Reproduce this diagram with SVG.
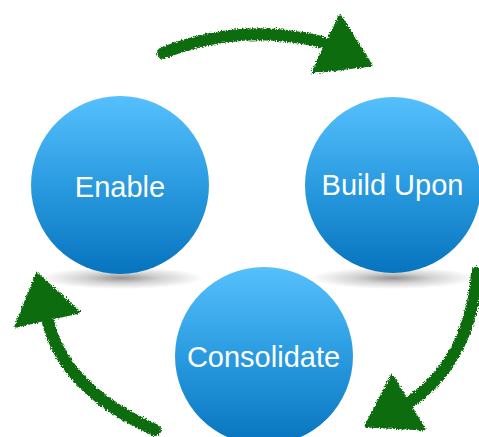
<svg xmlns="http://www.w3.org/2000/svg" width="479" height="437" viewBox="0 0 479 437">
  <defs>
    <linearGradient id="ball" x1="0" y1="0" x2="0" y2="1">
      <stop offset="0" stop-color="#56c0fd"/>
      <stop offset="0.5" stop-color="#2a9be0"/>
      <stop offset="1" stop-color="#0674be"/>
    </linearGradient>
    <radialGradient id="shadow" cx="0.5" cy="0.5" r="0.5">
      <stop offset="0" stop-color="#000" stop-opacity="0.42"/>
      <stop offset="0.45" stop-color="#000" stop-opacity="0.18"/>
      <stop offset="1" stop-color="#000" stop-opacity="0"/>
    </radialGradient>
    <filter id="rough" x="-10%" y="-10%" width="120%" height="120%">
      <feTurbulence type="fractalNoise" baseFrequency="0.8" numOctaves="2" seed="3" result="noise"/>
      <feDisplacementMap in="SourceGraphic" in2="noise" scale="5" xChannelSelector="R" yChannelSelector="G"/>
    </filter>
    <style>
      .label { font-family: "Liberation Sans", Arial, Helvetica, sans-serif; font-size: 29px; fill: #ffffff; text-anchor: middle; }
      .shaft { fill: none; stroke: #0a6c0a; stroke-width: 12; stroke-linecap: round; }
      .head { fill: #0a6c0a; stroke: #0a6c0a; stroke-width: 3; stroke-linejoin: round; }
    </style>
  </defs>
  <rect width="479" height="437" fill="#ffffff"/>

  <!-- shadows -->
  <ellipse cx="122" cy="278" rx="82" ry="11" fill="url(#shadow)"/>
  <ellipse cx="393" cy="278" rx="82" ry="11" fill="url(#shadow)"/>

  <g id="node-enable">
    <circle cx="120" cy="185" r="89" fill="url(#ball)"/>
    <text class="label" x="120" y="197">Enable</text>
  </g>
  <g id="node-build-upon">
    <circle cx="393" cy="185" r="88" fill="url(#ball)"/>
    <text class="label" x="392.5" y="195">Build Upon</text>
  </g>
  <g id="node-consolidate">
    <circle cx="264" cy="356" r="89" fill="url(#ball)"/>
    <text class="label" x="263.5" y="367">Consolidate</text>
  </g>

  <g id="connectors" filter="url(#rough)">
    <g id="arrow-top">
      <path class="shaft" d="M163,53 Q240,22 322,42"/>
      <polygon class="head" points="340,16 313,72 371,65"/>
    </g>
    <g id="arrow-right">
      <path class="shaft" d="M477,273 Q470,360 410,402"/>
      <polygon class="head" points="392,376 366,426 424,429"/>
    </g>
    <g id="arrow-left">
      <path class="shaft" d="M155,430 Q65,390 48,322"/>
      <polygon class="head" points="37,274 16,326 79,312"/>
    </g>
  </g>
</svg>
